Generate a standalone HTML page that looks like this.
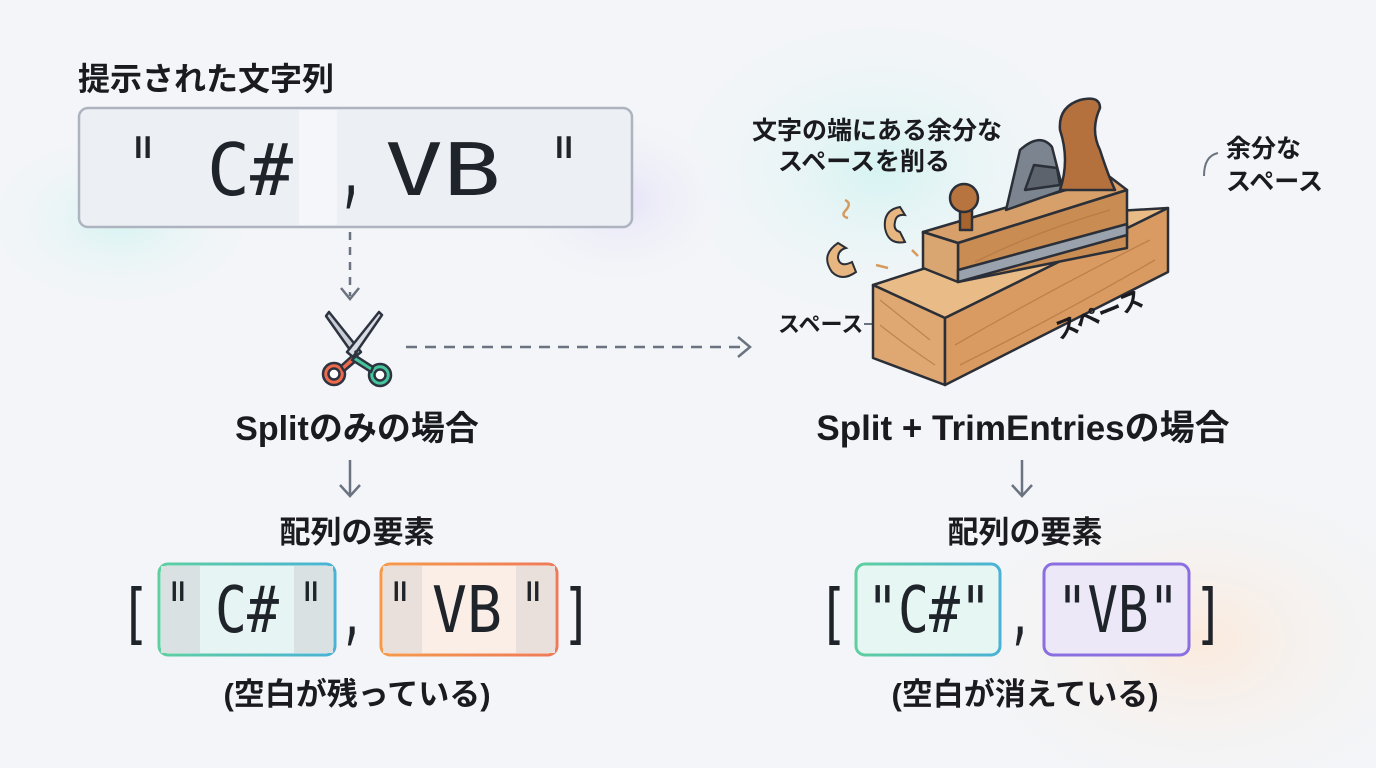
<!DOCTYPE html>
<html><head><meta charset="utf-8"><style>
html,body{margin:0;padding:0;width:1376px;height:768px;overflow:hidden;background:#f3f5f8}
svg{display:block;position:absolute;left:0;top:0}
.j{font-family:"Liberation Sans","Noto Sans CJK JP",sans-serif;font-weight:bold;fill:#1b1b1f}
.m{font-family:"DejaVu Sans Mono","Liberation Mono",monospace;fill:#1f232a}
</style></head><body>
<svg width="1376" height="768" viewBox="0 0 1376 768" xmlns="http://www.w3.org/2000/svg">
<defs>
<radialGradient id="g1" cx="0.5" cy="0.5" r="0.5"><stop offset="0" stop-color="#d6f4f2"/><stop offset="1" stop-color="#f3f5f8" stop-opacity="0"/></radialGradient>
<radialGradient id="g2" cx="0.5" cy="0.5" r="0.5"><stop offset="0" stop-color="#fbeadc"/><stop offset="1" stop-color="#f3f5f8" stop-opacity="0"/></radialGradient>
<radialGradient id="g3" cx="0.5" cy="0.5" r="0.5"><stop offset="0" stop-color="#e6e2f8"/><stop offset="1" stop-color="#f3f5f8" stop-opacity="0"/></radialGradient>
<linearGradient id="lg1" x1="0" x2="1"><stop offset="0" stop-color="#5fcfa0"/><stop offset="1" stop-color="#4ab2d6"/></linearGradient>
<linearGradient id="lg2" x1="0" x2="1"><stop offset="0" stop-color="#f59a4c"/><stop offset="1" stop-color="#ee7a5a"/></linearGradient>
</defs>
<rect width="1376" height="768" fill="#f3f5f8"/>
<ellipse cx="880" cy="170" rx="220" ry="160" fill="url(#g1)"/>
<ellipse cx="1200" cy="640" rx="260" ry="180" fill="url(#g2)"/>
<ellipse cx="120" cy="220" rx="140" ry="90" fill="url(#g1)"/>
<ellipse cx="620" cy="200" rx="120" ry="90" fill="url(#g3)"/>

<text class="j" x="78" y="90" font-size="32">提示された文字列</text>
<rect x="79" y="108" width="553" height="119" rx="9" fill="#eceff3" stroke="#adb4bf" stroke-width="2.5"/>
<rect x="299" y="110" width="38" height="115" fill="#f4f6f9"/>
<text class="m" x="128" y="195" font-size="80" textLength="30" lengthAdjust="spacingAndGlyphs">"</text>
<text class="m" x="207" y="195" font-size="72" textLength="86" lengthAdjust="spacingAndGlyphs">C#</text>
<text class="m" x="338" y="197" font-size="80" textLength="26" lengthAdjust="spacingAndGlyphs">,</text>
<text class="m" x="385" y="195" font-size="72" textLength="116" lengthAdjust="spacingAndGlyphs">VB</text>
<text class="m" x="549" y="195" font-size="80" textLength="30" lengthAdjust="spacingAndGlyphs">"</text>

<line x1="350" y1="232" x2="350" y2="296" stroke="#6b7380" stroke-width="2.5" stroke-dasharray="8,7"/>
<polyline points="341,288 350,299 359,288" fill="none" stroke="#6b7380" stroke-width="2.5"/>

<g stroke="#2d3340" stroke-width="2.5" stroke-linejoin="round">
<path d="M326,316 L329,312 L361,352 L355,357 Z" fill="#c9ced6"/>
<path d="M382,315 L379,312 L347,352 L353,357 Z" fill="#d9dde3"/>
<circle cx="334" cy="374" r="11" fill="#ef6a4b"/><circle cx="334" cy="374" r="5.5" fill="#fff"/>
<circle cx="380" cy="375" r="11" fill="#44c69a"/><circle cx="380" cy="375" r="5.5" fill="#fff"/>
<path d="M341,366 L352,356 L357,360 L344,371 Z" fill="#ef6a4b"/>
<path d="M373,367 L356,356 L352,360 L371,372 Z" fill="#44c69a"/>
</g>
<circle cx="356" cy="352" r="1.8" fill="#2d3340"/>

<line x1="406" y1="347" x2="748" y2="347" stroke="#6b7380" stroke-width="2.5" stroke-dasharray="11,8"/>
<polyline points="738,337 750,347 738,357" fill="none" stroke="#6b7380" stroke-width="2.5"/>

<text class="j" x="357" y="440" font-size="34" text-anchor="middle">Splitのみの場合</text>
<line x1="350" y1="460" x2="350" y2="495" stroke="#6b7380" stroke-width="2.5"/>
<polyline points="340,485 350,496 360,485" fill="none" stroke="#6b7380" stroke-width="2.5"/>
<text class="j" x="357" y="543" font-size="31" text-anchor="middle">配列の要素</text>

<text class="m" x="120" y="636" font-size="66" textLength="30" lengthAdjust="spacingAndGlyphs">[</text>
<rect x="159" y="564" width="176" height="91" rx="9" fill="#e6f4f4" stroke="url(#lg1)" stroke-width="3"/>
<rect x="161" y="566" width="39" height="87" fill="#d9e1e3"/>
<rect x="294" y="566" width="39" height="87" fill="#d9e1e3"/>
<text class="m" x="166" y="634" font-size="72" textLength="24" lengthAdjust="spacingAndGlyphs">"</text>
<text class="m" x="215" y="632" font-size="64" textLength="64" lengthAdjust="spacingAndGlyphs">C#</text>
<text class="m" x="299" y="634" font-size="72" textLength="24" lengthAdjust="spacingAndGlyphs">"</text>
<text class="m" x="340" y="636" font-size="66" textLength="24" lengthAdjust="spacingAndGlyphs">,</text>
<rect x="381" y="564" width="176" height="91" rx="9" fill="#faeee6" stroke="url(#lg2)" stroke-width="3"/>
<rect x="383" y="566" width="39" height="87" fill="#e9e0dc"/>
<rect x="516" y="566" width="39" height="87" fill="#e9e0dc"/>
<text class="m" x="388" y="634" font-size="72" textLength="24" lengthAdjust="spacingAndGlyphs">"</text>
<text class="m" x="432" y="632" font-size="64" textLength="70" lengthAdjust="spacingAndGlyphs">VB</text>
<text class="m" x="521" y="634" font-size="72" textLength="24" lengthAdjust="spacingAndGlyphs">"</text>
<text class="m" x="562" y="636" font-size="66" textLength="30" lengthAdjust="spacingAndGlyphs">]</text>
<text class="j" x="357" y="705" font-size="31" text-anchor="middle">(空白が残っている)</text>

<text class="j" x="752" y="139" font-size="25">文字の端にある余分な</text>
<text class="j" x="778" y="170" font-size="25">スペースを削る</text>
<text class="j" x="1226" y="157" font-size="25">余分な</text>
<text class="j" x="1226" y="190" font-size="25">スペース</text>
<path d="M1218,153 Q1204,156 1204,176" fill="none" stroke="#6b7380" stroke-width="2"/>
<text class="j" x="778" y="332" font-size="22">スペース</text>
<line x1="864" y1="324" x2="897" y2="324" stroke="#6b7380" stroke-width="2"/>

<g stroke="#2b2f38" stroke-width="2.5" stroke-linejoin="round">
<polygon points="873,285 1100,212 1168,208 945,318" fill="#e9bb86"/>
<polygon points="873,285 945,318 945,385 873,358" fill="#dfa872"/>
<polygon points="945,318 1168,208 1168,272 945,385" fill="#d99b61"/>
<polygon points="923,232 955,243 958,270 926,260" fill="#9aa3ad"/>
<polygon points="923,232 1110,177 1127,190 958,243" fill="#d7a06a"/>
<polygon points="958,243 1127,190 1127,248 958,282" fill="#c98c53"/>
<polygon points="923,232 958,243 958,282 923,268" fill="#d9a570"/>
<polygon points="958,270 1127,224 1127,235 958,282" fill="#9aa3ad"/>
<path d="M1006,210 L1020,150 Q1040,132 1052,147 L1063,190 Z" fill="#7b848f"/>
<path d="M1025,190 L1034,165 L1057,168 L1060,185 Z" fill="#5c636d"/>
<path d="M1060,190 Q1070,160 1060,130 Q1058,107 1080,100 Q1100,95 1100,108 Q1090,130 1100,150 Q1108,175 1115,190 Z" fill="#b5713d"/>
<rect x="960" y="200" width="12" height="30" fill="#a8642f"/>
<circle cx="964" cy="198" r="14" fill="#b8743f"/>
</g>
<g stroke="#b07642" stroke-width="1.3" fill="none" opacity="0.7">
<path d="M955,345 Q1050,290 1150,240"/><path d="M960,365 Q1060,315 1155,260"/>
<path d="M880,300 Q905,320 930,340"/><path d="M880,325 Q905,345 935,365"/>
<path d="M975,262 Q1040,230 1110,210"/>
</g>
<text class="j" x="1050" y="330" font-size="24" transform="rotate(-22 1080 312)">スペース</text>
<g fill="#e8b680" stroke="#2b2f38" stroke-width="2">
<path d="M838,243 Q820,255 832,272 Q842,282 856,272 L852,262 Q840,268 838,258 Q838,250 846,248 Z"/>
<path d="M900,207 Q883,210 885,228 Q888,245 905,242 L900,232 Q893,230 895,222 Q896,214 905,215 Z"/>
</g>
<path d="M845,200 Q852,203 846,210 Q840,216 848,218" fill="none" stroke="#d79a5c" stroke-width="2.5"/>
<path d="M876,265 L888,268" stroke="#d79a5c" stroke-width="2.5"/>
<path d="M912,250 L918,256" stroke="#d79a5c" stroke-width="2.5"/>

<text class="j" x="1023" y="440" font-size="35" text-anchor="middle">Split + TrimEntriesの場合</text>
<line x1="1022" y1="460" x2="1022" y2="495" stroke="#6b7380" stroke-width="2.5"/>
<polyline points="1012,485 1022,496 1032,485" fill="none" stroke="#6b7380" stroke-width="2.5"/>
<text class="j" x="1025" y="543" font-size="31" text-anchor="middle">配列の要素</text>

<text class="m" x="818" y="636" font-size="66" textLength="30" lengthAdjust="spacingAndGlyphs">[</text>
<rect x="856" y="564" width="144" height="91" rx="9" fill="#e6f6f3" stroke="url(#lg1)" stroke-width="3"/>
<text class="m" x="867" y="632" font-size="64" textLength="124" lengthAdjust="spacingAndGlyphs">"C#"</text>
<text class="m" x="1008" y="636" font-size="66" textLength="24" lengthAdjust="spacingAndGlyphs">,</text>
<rect x="1044" y="564" width="145" height="91" rx="9" fill="#ece8f8" stroke="#8b6fe0" stroke-width="3"/>
<text class="m" x="1057" y="632" font-size="64" textLength="122" lengthAdjust="spacingAndGlyphs">"VB"</text>
<text class="m" x="1194" y="636" font-size="66" textLength="30" lengthAdjust="spacingAndGlyphs">]</text>
<text class="j" x="1025" y="705" font-size="31" text-anchor="middle">(空白が消えている)</text>
</svg>
</body></html>
